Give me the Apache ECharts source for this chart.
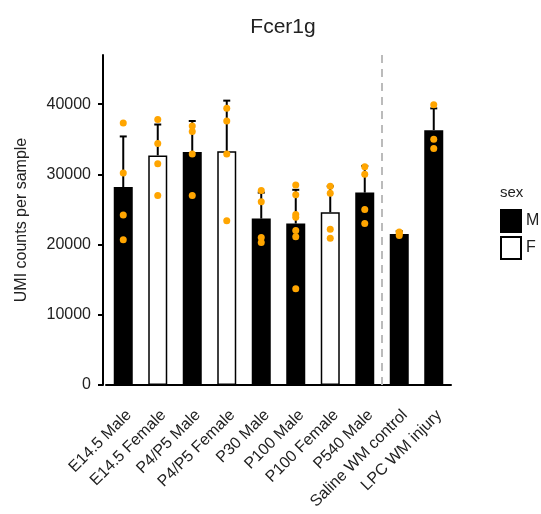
<!DOCTYPE html>
<html>
<head>
<meta charset="utf-8">
<script src="https://cdn.jsdelivr.net/npm/echarts@6/dist/echarts.min.js"></script>
<style>
  html, body { margin: 0; padding: 0; background: #fff; }
  #chart { width: 541px; height: 514px; }
</style>
</head>
<body>
<div id="chart"></div>
<script>
var categories = ['E14.5 Male', 'E14.5 Female', 'P4/P5 Male', 'P4/P5 Female', 'P30 Male',
  'P100 Male', 'P100 Female', 'P540 Male', 'Saline WM control', 'LPC WM injury'];
var sexes = ['M', 'F', 'M', 'F', 'M', 'M', 'F', 'M', 'M', 'M'];
var means = [28200, 32700, 33200, 33300, 23700, 23000, 24600, 27400, 21500, 36300];
var errTops = [35400, 37100, 37600, 40500, 27400, 27800, 28300, 31200, 21900, 39400];
var samples = [
  [37300, 30200, 24200, 20700],
  [37800, 34400, 31500, 27000],
  [36900, 36100, 32900, 27000],
  [39400, 37600, 32900, 23400],
  [27700, 26100, 21000, 20300],
  [28500, 27100, 24300, 23900, 22000, 21100, 13700],
  [28300, 27300, 22200, 20900],
  [31100, 30000, 25000, 23000],
  [21800, 21600, 21300],
  [39900, 35000, 33700]
];
var yTicks = [0, 10000, 20000, 30000, 40000];
var splitAfter = 'P540 Male';

var font = 'Liberation Sans, Arial, sans-serif';

var maleData = means.map(function (v, i) { return sexes[i] === 'M' ? v : '-'; });
var femaleData = means.map(function (v, i) { return sexes[i] === 'F' ? v : '-'; });
var pointData = [];
samples.forEach(function (arr, i) {
  arr.forEach(function (v) { pointData.push([i, v]); });
});
var errData = means.map(function (m, i) { return [i, m, errTops[i]]; });
var sepIndex = categories.indexOf(splitAfter);

var chart = echarts.init(document.getElementById('chart'));
chart.setOption({
  animation: false,
  title: [{
    text: 'Fcer1g',
    left: 278,
    textAlign: 'center',
    top: 12,
    textStyle: { fontFamily: font, fontSize: 21, fontWeight: 'normal', color: '#222' }
  }, {
    text: 'sex',
    left: 500,
    top: 185,
    padding: 0,
    textStyle: { fontFamily: font, fontSize: 15, fontWeight: 'normal', color: '#222' }
  }],
  legend: {
    data: ['M', 'F'],
    icon: 'rect',
    orient: 'vertical',
    left: 500,
    top: 209,
    padding: 0,
    itemWidth: 20,
    itemHeight: 22,
    itemGap: 3,
    textStyle: { fontFamily: font, fontSize: 16, color: '#222' }
  },
  grid: { left: 106, right: 90, top: 55, bottom: 129, outerBoundsMode: 'none' },
  xAxis: {
    type: 'category',
    data: categories,
    axisLine: { lineStyle: { color: '#000', width: 2 } },
    axisTick: { alignWithLabel: true, length: 5, lineStyle: { color: '#000', width: 2 } },
    axisLabel: {
      rotate: 45, interval: 0, margin: 22,
      verticalAlign: 'top',
      fontFamily: font, fontSize: 16, color: '#222'
    }
  },
  yAxis: {
    type: 'value',
    min: 0,
    max: 47000,
    interval: 10000,
    offset: 3,
    name: 'UMI counts per sample',
    nameLocation: 'middle',
    nameGap: 73,
    nameTextStyle: { fontFamily: font, fontSize: 16, color: '#222' },
    axisLine: { show: true, lineStyle: { color: '#000', width: 2 } },
    axisTick: { show: true, length: 5, customValues: yTicks, lineStyle: { color: '#000', width: 2 } },
    axisLabel: {
      customValues: yTicks, fontFamily: font, fontSize: 16, color: '#222', margin: 12,
      formatter: function (v) { return String(v); }
    },
    splitLine: { show: false }
  },
  series: [{
    name: 'sep',
    type: 'custom',
    silent: true,
    data: [[sepIndex]],
    renderItem: function (params, api) {
      var a = api.coord([sepIndex, 0]);
      var b = api.coord([sepIndex + 1, 0]);
      var x = (a[0] + b[0]) / 2;
      var cs = params.coordSys;
      return {
        type: 'line',
        shape: { x1: x, y1: cs.y, x2: x, y2: cs.y + cs.height },
        style: { stroke: '#bbb', lineWidth: 2, lineDash: [8, 6] }
      };
    },
    z: 1
  }, {
    name: 'M',
    type: 'bar',
    data: maleData,
    barWidth: 19,
    barGap: '-100%',
    itemStyle: { color: '#000', borderColor: '#000', borderWidth: 1.5 },
    z: 2
  }, {
    name: 'F',
    type: 'bar',
    data: femaleData,
    barWidth: 19,
    itemStyle: { color: '#fff', borderColor: '#000', borderWidth: 1.5 },
    z: 2
  }, {
    name: 'err',
    type: 'custom',
    data: errData,
    renderItem: function (params, api) {
      var lo = api.coord([api.value(0), api.value(1)]);
      var hi = api.coord([api.value(0), api.value(2)]);
      var cap = 3.5;
      return {
        type: 'group',
        children: [{
          type: 'line',
          shape: { x1: lo[0], y1: lo[1], x2: hi[0], y2: hi[1] },
          style: { stroke: '#000', lineWidth: 2 }
        }, {
          type: 'line',
          shape: { x1: hi[0] - cap, y1: hi[1], x2: hi[0] + cap, y2: hi[1] },
          style: { stroke: '#000', lineWidth: 2 }
        }]
      };
    },
    z: 3
  }, {
    name: 'points',
    type: 'scatter',
    data: pointData,
    symbolSize: 7,
    itemStyle: { color: '#FFA500', opacity: 1 },
    z: 4
  }]
});
</script>
</body>
</html>
